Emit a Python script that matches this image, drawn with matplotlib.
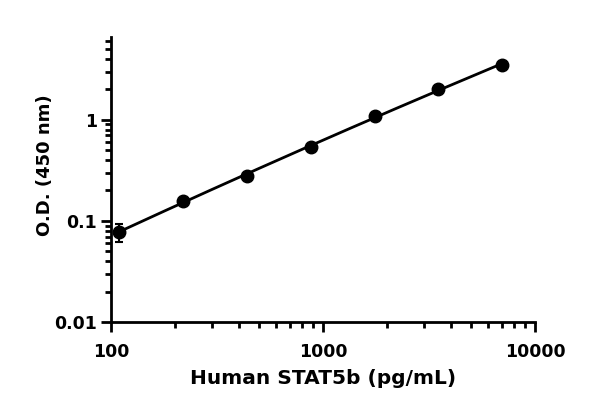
import numpy as np
import matplotlib
matplotlib.use("Agg")
import matplotlib.pyplot as plt
from matplotlib.ticker import LogLocator, NullFormatter, FixedLocator, FixedFormatter

conc = [109.4, 218.75, 437.5, 875, 1750, 3500, 7000]
od = [0.078, 0.158, 0.278, 0.542, 1.08, 2.04, 3.49]
err = [0.016, 0.004, 0.006, 0.01, 0.02, 0.03, 0.04]

xticks = [100, 1000, 10000]
xticklabels = ["100", "1000", "10000"]
yticks = [0.01, 0.1, 1]
yticklabels = ["0.01", "0.1", "1"]

plt.rcParams['font.family'] = ['DejaVu Sans']
plt.rcParams['font.weight'] = 'bold'

fig = plt.figure(figsize=(5.9, 4.05), dpi=100)
ax = fig.add_axes([111/590, 1-322/405, (535-111)/590, (322-37)/405])

lx = np.log10(conc)
ly = np.log10(od)
coef = np.polyfit(lx, ly, 2)
xs = np.linspace(lx[0], lx[-1], 200)
ax.plot(10**xs, 10**np.polyval(coef, xs), color='black', lw=2)
ax.errorbar(conc, od, yerr=err, fmt='o', color='black', ms=9, capsize=3, elinewidth=1.5, capthick=1.5)

ax.set_xscale('log')
ax.set_yscale('log')
ax.set_xlim(100, 10000)
ax.set_ylim(0.01, 6.6)
ax.spines['top'].set_visible(False)
ax.spines['right'].set_visible(False)
for s in ['left', 'bottom']:
    ax.spines[s].set_linewidth(2)
ax.xaxis.set_major_locator(FixedLocator(xticks))
ax.xaxis.set_major_formatter(FixedFormatter(xticklabels))
ax.yaxis.set_major_locator(FixedLocator(yticks))
ax.yaxis.set_major_formatter(FixedFormatter(yticklabels))
ax.xaxis.set_minor_locator(LogLocator(base=10, subs=np.arange(2, 10)))
ax.yaxis.set_minor_locator(LogLocator(base=10, subs=np.arange(2, 10)))
ax.xaxis.set_minor_formatter(NullFormatter())
ax.yaxis.set_minor_formatter(NullFormatter())
ax.tick_params(which='major', length=7, width=2, labelsize=12.5)
ax.tick_params(axis='x', which='major', pad=8)
ax.tick_params(axis='y', which='major', pad=3)
ax.tick_params(which='minor', length=4, width=2)
for lab in ax.get_xticklabels() + ax.get_yticklabels():
    lab.set_fontweight('bold')

ax.set_xlabel("Human STAT5b (pg/mL)", fontsize=14.5, fontweight='bold')
ax.set_ylabel("O.D. (450 nm)", fontsize=13, fontweight='bold')
ax.xaxis.set_label_coords(0.5, (322-369)/285)
ax.yaxis.set_label_coords((54-111)/424, (322-165)/285)

fig.savefig("out.png", dpi=100)
